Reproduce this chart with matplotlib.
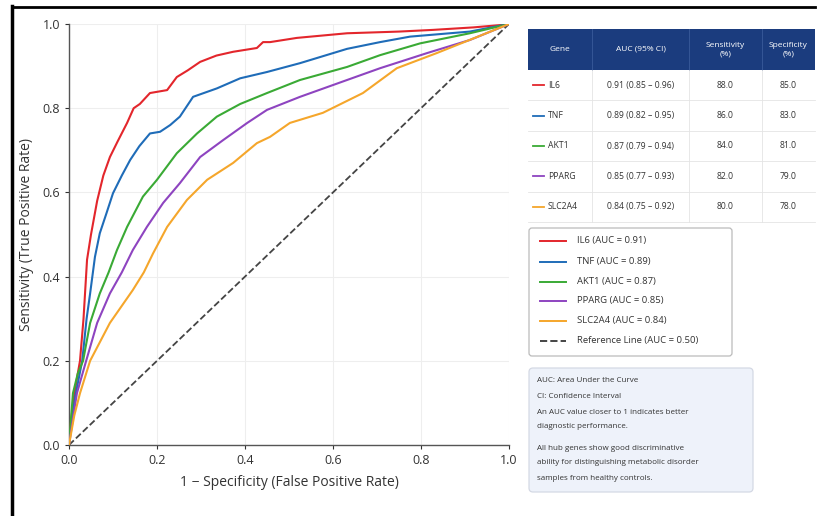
import matplotlib
matplotlib.use("Agg")
import matplotlib.pyplot as plt
from matplotlib.patches import Rectangle, FancyBboxPatch
from matplotlib.lines import Line2D

plt.rcParams['font.family'] = ['Open Sans', 'DejaVu Sans']

genes = ["IL6", "TNF", "AKT1", "PPARG", "SLC2A4"]
colors = ["#e3262c", "#1f6cb8", "#3aaa35", "#8e44c0", "#f5a62b"]
auc = [0.91, 0.89, 0.87, 0.85, 0.84]
ci_low = [0.85, 0.82, 0.79, 0.77, 0.75]
ci_high = [0.96, 0.95, 0.94, 0.93, 0.92]
sensitivity = [88.0, 86.0, 84.0, 82.0, 80.0]
specificity = [85.0, 83.0, 81.0, 79.0, 78.0]

fpr_il6 = [0, .005, .012, .02, .025, .033, .041, .05, .064, .078, .093, .11, .132, .147, .161, .184, .223, .245, .27, .298, .335, .373, .427, .441, .457, .518, .632, .75, .827, .92, .986, 1]
tpr_il6 = [0, .06, .12, .17, .2, .3, .44, .5, .58, .64, .684, .72, .765, .8, .81, .836, .843, .874, .89, .91, .925, .934, .943, .957, .957, .967, .978, .982, .986, .992, .998, 1]
fpr_tnf = [0, .005, .015, .03, .04, .048, .059, .07, .085, .1, .12, .139, .16, .184, .207, .23, .252, .282, .336, .389, .45, .525, .632, .707, .775, .911, 1]
tpr_tnf = [0, .05, .12, .2, .3, .36, .447, .503, .55, .598, .64, .677, .71, .74, .744, .76, .78, .827, .847, .871, .886, .907, .941, .957, .97, .982, 1]
fpr_akt1 = [0, .009, .02, .032, .048, .07, .09, .109, .132, .168, .2, .245, .291, .336, .389, .45, .525, .632, .707, .798, .911, 1]
tpr_akt1 = [0, .123, .17, .2, .29, .36, .41, .463, .518, .59, .63, .693, .74, .78, .81, .836, .867, .898, .926, .954, .978, 1]
fpr_pparg = [0, .01, .018, .039, .064, .093, .12, .145, .177, .214, .252, .298, .35, .405, .45, .525, .632, .707, .814, .911, 1]
tpr_pparg = [0, .07, .123, .2, .29, .36, .41, .463, .518, .575, .622, .684, .724, .765, .796, .827, .867, .895, .931, .962, 1]
fpr_slc2a4 = [0, .012, .025, .048, .093, .145, .17, .191, .223, .268, .314, .373, .427, .457, .502, .577, .668, .745, .836, .927, 1]
tpr_slc2a4 = [0, .07, .123, .2, .29, .368, .41, .455, .518, .582, .63, .67, .717, .732, .765, .789, .836, .895, .931, .969, 1]

fprs = [fpr_il6, fpr_tnf, fpr_akt1, fpr_pparg, fpr_slc2a4]
tprs = [tpr_il6, tpr_tnf, tpr_akt1, tpr_pparg, tpr_slc2a4]

note_lines = ["AUC: Area Under the Curve",
              "CI: Confidence Interval",
              "An AUC value closer to 1 indicates better",
              "diagnostic performance.",
              "All hub genes show good discriminative",
              "ability for distinguishing metabolic disorder",
              "samples from healthy controls."]

W, H = 817, 516
fig = plt.figure(figsize=(W / 100, H / 100), dpi=100)
fig.patch.set_facecolor("white")

# main ROC axes
ax = fig.add_axes([69 / W, 1 - 445 / H, 440 / W, 421 / H])
for g, c, fx, ty in zip(genes, colors, fprs, tprs):
    ax.plot(fx, ty, color=c, lw=1.5, zorder=3)
ax.plot([0, 1], [0, 1], ls="--", color="#444444", lw=1.3, zorder=2)
ax.set_xlim(0, 1)
ax.set_ylim(0, 1)
ax.set_xticks([0, .2, .4, .6, .8, 1.0])
ax.set_yticks([0, .2, .4, .6, .8, 1.0])
ax.grid(True, color="#eeeeee", lw=0.8, zorder=0)
for s in ["top", "right"]:
    ax.spines[s].set_visible(False)
for s in ["left", "bottom"]:
    ax.spines[s].set_color("#555555")
    ax.spines[s].set_linewidth(1.0)
ax.tick_params(labelsize=9, colors="#333333", length=3)
ax.set_xlabel("1 \u2212 Specificity (False Positive Rate)", fontsize=10, color="#333333", labelpad=6)
ax.set_ylabel("Sensitivity (True Positive Rate)", fontsize=10, color="#333333", labelpad=6)

# overlay axes in pixel coordinates
ov = fig.add_axes([0, 0, 1, 1])
ov.set_xlim(0, W)
ov.set_ylim(H, 0)
ov.axis("off")

# frame lines (left and top)
ov.add_line(Line2D([12, 12], [6, H], color="black", lw=2.5))
ov.add_line(Line2D([12, 815], [7, 7], color="black", lw=2.0))

# table
tx0, tx1 = 528, 815
col_edges = [528, 592, 689, 762, 815]
hy0, hy1 = 29, 70
row_h = 30.4
navy = "#1b3c7e"
ov.add_patch(Rectangle((tx0, hy0), tx1 - tx0, hy1 - hy0, facecolor=navy, edgecolor="none"))
headers = ["Gene", "AUC (95% CI)", "Sensitivity\n(%)", "Specificity\n(%)"]
for i, h in enumerate(headers):
    cx = (col_edges[i] + col_edges[i + 1]) / 2
    ov.text(cx, (hy0 + hy1) / 2, h, ha="center", va="center", fontsize=6.0,
            color="white", linespacing=1.3)
for xe in col_edges[1:-1]:
    ov.add_line(Line2D([xe, xe], [hy0, hy1], color="#3a5a9a", lw=0.6))
    ov.add_line(Line2D([xe, xe], [hy1, hy1 + 5 * row_h], color="#e4e4e4", lw=0.6))
for r in range(5):
    y0 = hy1 + r * row_h
    yc = y0 + row_h / 2
    ov.add_line(Line2D([tx0, tx1], [y0 + row_h, y0 + row_h], color="#e4e4e4", lw=0.6))
    ov.add_line(Line2D([533, 544], [yc, yc], color=colors[r], lw=1.3))
    ov.text(548, yc, genes[r], ha="left", va="center", fontsize=6.2, color="#333333")
    ov.text((col_edges[1] + col_edges[2]) / 2, yc,
            f"{auc[r]:.2f} ({ci_low[r]:.2f} \u2013 {ci_high[r]:.2f})",
            ha="center", va="center", fontsize=6.2, color="#333333")
    ov.text((col_edges[2] + col_edges[3]) / 2, yc, f"{sensitivity[r]:.1f}",
            ha="center", va="center", fontsize=6.2, color="#333333")
    ov.text((col_edges[3] + col_edges[4]) / 2, yc, f"{specificity[r]:.1f}",
            ha="center", va="center", fontsize=6.2, color="#333333")

# legend box
ov.add_patch(FancyBboxPatch((529, 228), 203, 128, boxstyle="round,pad=0,rounding_size=3",
                            facecolor="white", edgecolor="#bbbbbb", lw=0.9))
leg_y = [241, 261.5, 281.5, 301, 320.5, 341]
leg_labels = [f"{g} (AUC = {a:.2f})" for g, a in zip(genes, auc)] + ["Reference Line (AUC = 0.50)"]
leg_colors = colors + ["#444444"]
for i, (lab, c) in enumerate(zip(leg_labels, leg_colors)):
    ls = "--" if i == 5 else "-"
    ov.add_line(Line2D([540, 566], [leg_y[i], leg_y[i]], color=c, lw=1.4, ls=ls))
    ov.text(577, leg_y[i], lab, ha="left", va="center", fontsize=6.8, color="#333333")

# note box
ov.add_patch(FancyBboxPatch((529, 368), 224, 124, boxstyle="round,pad=0,rounding_size=4",
                            facecolor="#eef2fa", edgecolor="#d4d9e4", lw=0.9))
note_y = [381, 396.5, 412, 427, 448, 463, 478]
for t, y in zip(note_lines, note_y):
    ov.text(537, y, t, ha="left", va="center", fontsize=5.8, color="#333333")

fig.savefig("out.png", dpi=100)
